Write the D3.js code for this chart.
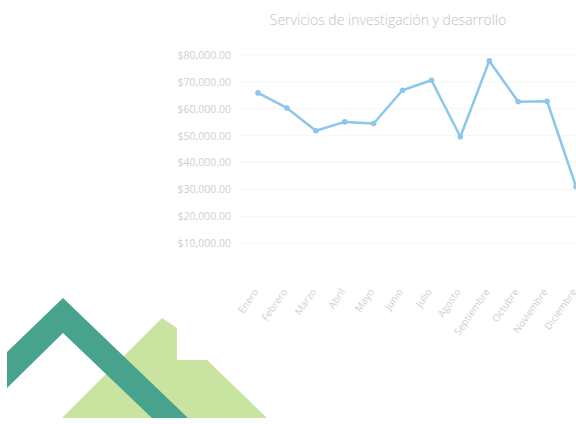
<!DOCTYPE html>
<html><head><meta charset="utf-8">
<script src="https://cdn.jsdelivr.net/npm/d3@7"></script>
<style>body{margin:0;background:#fff}svg{display:block}</style>
</head><body>
<script>
const months = ["Enero","Febrero","Marzo","Abril","Mayo","Junio","Julio","Agosto","Septiembre","Octubre","Noviembre","Diciembre"];
const values = [65900,60300,51800,55100,54500,66900,70600,49600,77800,62600,62800,31000];
const yTicks = [10000,20000,30000,40000,50000,60000,70000,80000];
const title = "Servicios de investigación y desarrollo";

const W=576,H=424;
const svg=d3.select("body").append("svg").attr("width",W).attr("height",H);
svg.append("rect").attr("width",W).attr("height",H).attr("fill","#fff");

const x=d3.scalePoint().domain(months).range([258,576]);
const y=d3.scaleLinear().domain([0,80000]).range([270,55]);

// logo
const logo=svg.append("g");
logo.append("polygon").attr("points","162,318 177,328 177,360 207,360 267,418 62,418").attr("fill","#c9e3a0");
logo.append("polygon").attr("points","7,352 63,298 188,418 152,418 63,333 7,388").attr("fill","#47a38d");

// grid
svg.append("g").selectAll("line").data(yTicks).join("line")
  .attr("x1",240).attr("x2",W).attr("y1",d=>y(d)).attr("y2",d=>y(d))
  .attr("stroke","#f6f6f6").attr("stroke-width",1);

svg.append("text").attr("x",388).attr("y",25).attr("text-anchor","middle")
  .attr("font-family","Open Sans").attr("font-size",14).attr("font-weight",300).attr("fill","#c2c2c2").text(title);

const fmt=d=>"$"+d3.format(",.2f")(d);
const ya=svg.append("g").attr("transform","translate(234,0)")
  .call(d3.axisLeft(y).tickValues(yTicks).tickFormat(fmt).tickSize(0));
ya.select(".domain").remove();
ya.selectAll("text").attr("font-family","Open Sans").attr("font-size",10.5).attr("fill","#cfcfcf");

const xa=svg.append("g").attr("transform","translate(0,286)")
  .call(d3.axisBottom(x).tickSize(0));
xa.select(".domain").remove();
xa.selectAll("text").attr("font-family","Open Sans").attr("font-size",10).attr("fill","#cfcfcf")
  .attr("text-anchor","end").attr("dx",0).attr("dy",0)
  .attr("transform","translate(-2,4) rotate(-55)");

const line=d3.line().x((d,i)=>x(months[i])).y(d=>y(d));
svg.append("path").datum(values).attr("d",line).attr("fill","none")
  .attr("stroke","#8cc6ea").attr("stroke-width",2.5).attr("stroke-linejoin","round");
svg.append("g").selectAll("circle").data(values).join("circle")
  .attr("cx",(d,i)=>x(months[i])).attr("cy",d=>y(d)).attr("r",2.8).attr("fill","#8cc6ea");
</script>
</body></html>
